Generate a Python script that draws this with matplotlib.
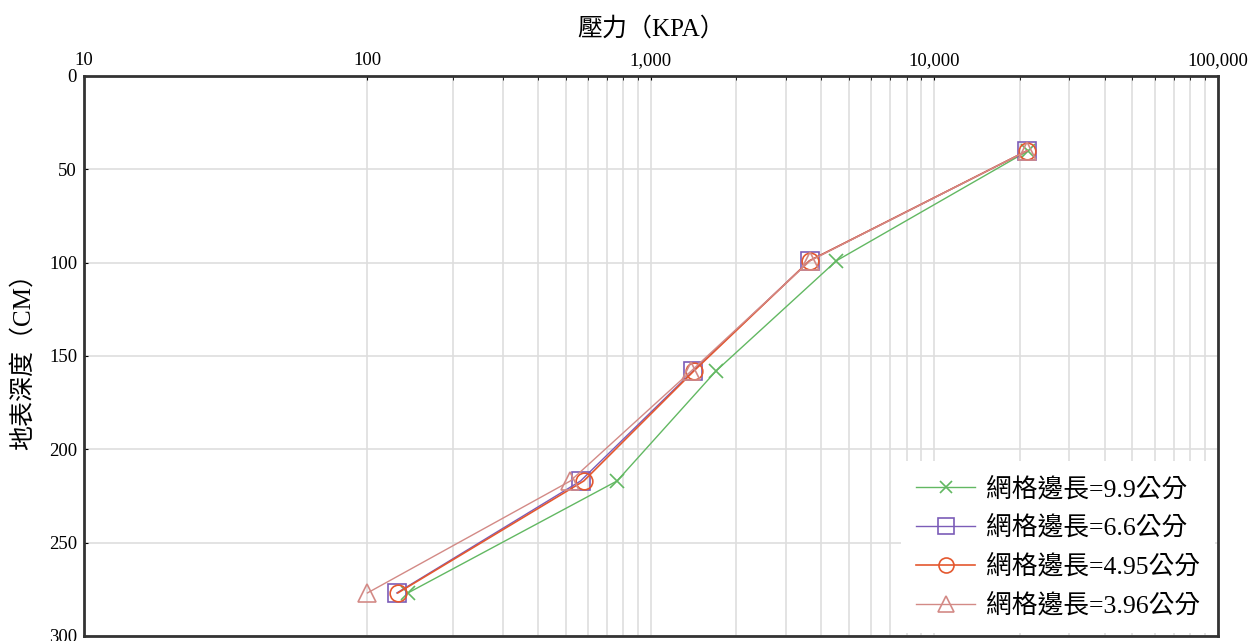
import numpy as np
import matplotlib.pyplot as plt
from matplotlib.ticker import FixedLocator, FuncFormatter

plt.rcParams['font.family'] = ['Liberation Serif', 'Noto Sans CJK TC']

# depth (cm) and pressure (kPa) for each grid size
depth = [40, 99, 158, 217, 277]
p_99 = [21500, 4520, 1700, 760, 139]
p_66 = [21300, 3630, 1410, 565, 127]
p_495 = [21300, 3630, 1420, 580, 128]
p_396 = [21300, 3650, 1390, 520, 100]

labels = ['網格邊長=9.9公分', '網格邊長=6.6公分', '網格邊長=4.95公分', '網格邊長=3.96公分']
xticks = [10, 100, 1000, 10000, 100000]
yticks = [0, 50, 100, 150, 200, 250, 300]

fig = plt.figure(figsize=(12.54, 6.41), dpi=100)
ax = fig.add_axes([0.067, 0.008, 0.904, 0.8735])

ax.plot(p_99, depth, color='#62b862', lw=1, marker='x', ms=10, mew=1.2, label=labels[0])
ax.plot(p_66, depth, color='#7b5cb8', lw=1, marker='s', ms=13, mfc='none', mew=1.2, label=labels[1])
ax.plot(p_495, depth, color='#e4582f', lw=1.2, marker='o', ms=12, mfc='none', mew=1.2, label=labels[2])
ax.plot(p_396, depth, color='#d38a86', lw=1, marker='^', ms=13, mfc='none', mew=1.2, label=labels[3])

ax.set_xscale('log')
ax.set_xlim(10, 100000)
ax.set_ylim(300, 0)
ax.xaxis.tick_top()
ax.xaxis.set_label_position('top')
ax.set_xticks(xticks)
ax.xaxis.set_major_formatter(FuncFormatter(lambda v, p: f'{int(v):,}'))
minors = [m * 10 ** k for k in range(2, 5) for m in range(2, 10)]
ax.xaxis.set_minor_locator(FixedLocator(minors))
ax.xaxis.set_minor_formatter(FuncFormatter(lambda v, p: ''))
ax.set_yticks(yticks)

ax.grid(True, which='major', color='#dedede', lw=1.2)
ax.grid(True, which='minor', axis='x', color='#dedede', lw=1.2)
ax.set_axisbelow(True)
ax.tick_params(axis='both', which='major', labelsize=13.5, length=3, direction='in', pad=5)
ax.tick_params(axis='x', which='minor', length=3, direction='in')
for s in ax.spines.values():
    s.set_linewidth(2)
    s.set_color('#333333')

ax.set_xlabel('壓力（KPA）', fontsize=18, labelpad=12)
ax.set_ylabel('地表深度（CM）', fontsize=18, labelpad=10)

leg = ax.legend(loc='lower right', fontsize=18.5, frameon=True, fancybox=False,
                borderaxespad=0.1, borderpad=0.6, handlelength=2.3, handletextpad=0.4,
                labelspacing=0.56, framealpha=1, markerscale=0.9)
leg.get_frame().set_edgecolor('none')

fig.savefig('out.png', dpi=100)
